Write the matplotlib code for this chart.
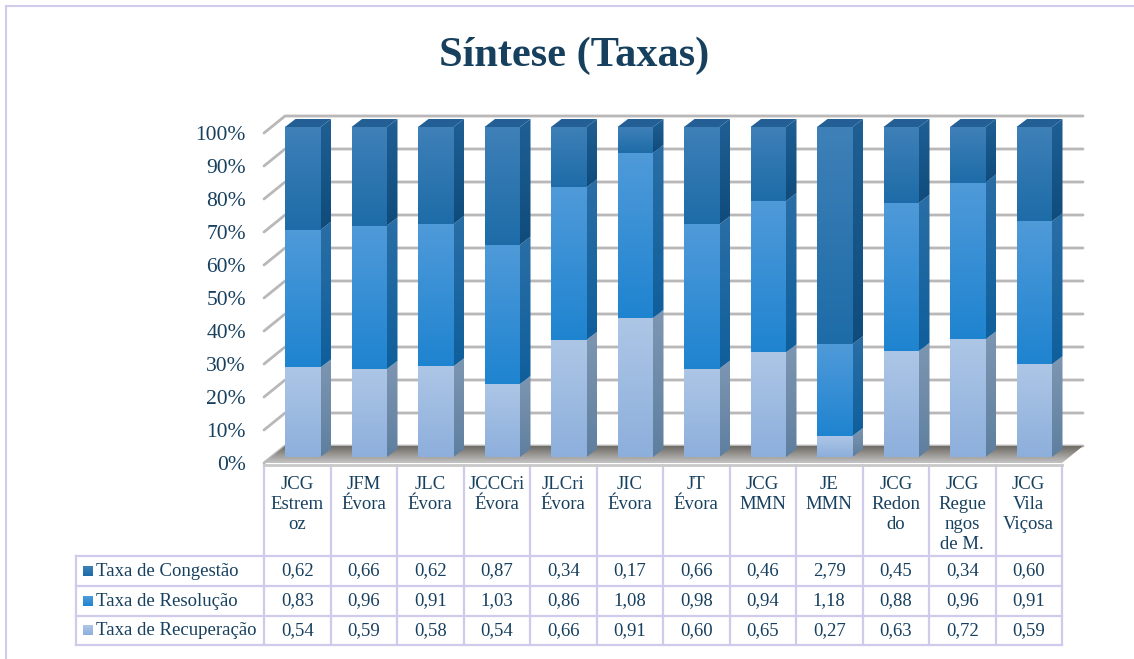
import numpy as np
import matplotlib
matplotlib.use('Agg')
from matplotlib import pyplot as plt
from matplotlib.colors import LinearSegmentedColormap
from matplotlib.patches import Polygon

plt.rcParams['font.family'] = ['Liberation Serif', 'DejaVu Serif']

categories = ['JCG\nEstrem\noz', 'JFM\nÉvora', 'JLC\nÉvora', 'JCCCri\nÉvora', 'JLCri\nÉvora',
              'JIC\nÉvora', 'JT\nÉvora', 'JCG\nMMN', 'JE\nMMN', 'JCG\nRedon\ndo',
              'JCG\nRegue\nngos\nde M.', 'JCG\nVila\nViçosa']
congestao = [0.62, 0.66, 0.62, 0.87, 0.34, 0.17, 0.66, 0.46, 2.79, 0.45, 0.34, 0.60]
resolucao = [0.83, 0.96, 0.91, 1.03, 0.86, 1.08, 0.98, 0.94, 1.18, 0.88, 0.96, 0.91]
recuperacao = [0.54, 0.59, 0.58, 0.54, 0.66, 0.91, 0.60, 0.65, 0.27, 0.63, 0.72, 0.59]
series_names = ['Taxa de Congestão', 'Taxa de Resolução', 'Taxa de Recuperação']
yticks = [0, 0.1, 0.2, 0.3, 0.4, 0.5, 0.6, 0.7, 0.8, 0.9, 1.0]

W, H = 1134, 659
TXT = '#17405f'
LINE = '#d0cbec'

# (front top, front bottom, side top, side bottom)
cols_recup = ('#adc6e6', '#8dafdc', '#7d96b2', '#5f7f9f')
cols_resol = ('#4f9ad9', '#1f84d0', '#2a6ea6', '#0f5f9c')
cols_cong = ('#3f80b8', '#1d6ca8', '#1f5f94', '#0f4c7c')

fig = plt.figure(figsize=(W / 100, H / 100), dpi=100)

# pixel overlay for the frame and the table
bg = fig.add_axes([0, 0, 1, 1])
bg.set_xlim(0, W)
bg.set_ylim(H, 0)
bg.axis('off')

# chart axes: 0% at pixel y 463, 100% at 133
x0, x1, y0, y1 = 264, 1062, 463, 133
ax = fig.add_axes([x0 / W, 1 - y0 / H, (x1 - x0) / W, (y0 - y1) / H])
ax.set_xlim(-0.5, 11.5)
ax.set_ylim(0, 1)
ax.set_autoscale_on(False)
ax.patch.set_alpha(0)
for s in ax.spines.values():
    s.set_visible(False)
px = 1.0 / ((x1 - x0) / 12.0)
py = 1.0 / (y0 - y1)


def grad_poly(verts, top, bottom, z):
    cmap = LinearSegmentedColormap.from_list('g', [top, bottom])
    xs = [v[0] for v in verts]
    ys = [v[1] for v in verts]
    poly = Polygon(verts, closed=True, facecolor='none', edgecolor='none', zorder=z, clip_on=False)
    ax.add_patch(poly)
    im = ax.imshow(np.linspace(0, 1, 64).reshape(-1, 1), cmap=cmap, aspect='auto', origin='upper',
                   extent=[min(xs), max(xs), min(ys), max(ys)], zorder=z)
    # the bars stand above the 100% line, so the axes box must not crop them
    im.set_clip_box(fig.bbox)
    im.set_clip_path(poly)


ax.set_yticks(yticks)
ax.set_yticklabels(['%d%%' % round(t * 100) for t in yticks], fontsize=15.5, color=TXT)
ax.tick_params(axis='y', length=0, pad=13)
ax.set_xticks([])

# walls: gridlines in depth, 21 px right and 17 px up
wx = 21 * px
wy = 17 * py
for t in yticks:
    ax.plot([-0.5, -0.5 + wx, 11.5 + wx], [t, t + wy, t + wy], color='#b9b7b7', lw=2, zorder=1,
            clip_on=False, solid_capstyle='round')

# floor
grad_poly([(-0.5, 0), (-0.5 + wx, wy), (11.5 + wx, wy), (11.5, 0)], '#6f6a64', '#c4c4c4', 2)
ax.plot([-0.5, 11.5], [-1.5 * py, -1.5 * py], color='#c9c9c9', lw=2, zorder=2, clip_on=False)

# bars, normalised to 100 %
rec = np.array(recuperacao)
res = np.array(resolucao)
con = np.array(congestao)
total = rec + res + con
stack = [(rec / total, cols_recup), (res / total, cols_resol), (con / total, cols_cong)]

bw = 35.5 * px
bx = 21 * px
by = 6 * py
sx = 10.5 * px
sy = 8 * py
for i in range(len(categories)):
    left = i - 0.5 + bx
    bottom = by
    for vals, c in stack:
        top = bottom + vals[i]
        grad_poly([(left, bottom), (left + bw, bottom), (left + bw, top), (left, top)], c[0], c[1], 5)
        grad_poly([(left + bw, bottom), (left + bw + sx, bottom + sy), (left + bw + sx, top + sy),
                   (left + bw, top)], c[2], c[3], 4)
        bottom = top
    ax.add_patch(Polygon([(left, bottom), (left + bw, bottom), (left + bw + sx, bottom + sy),
                          (left + sx, bottom + sy)], closed=True, facecolor='#235f94',
                         edgecolor='none', zorder=6, clip_on=False))

# frame
bg.plot([6, W], [6, 6], color=LINE, lw=1.5)
bg.plot([6, 6], [6, H], color=LINE, lw=1.5)

bg.text(574, 56, 'Síntese (Taxas)', ha='center', va='center', fontsize=30.5, fontweight='bold', color=TXT)

# table
row_lines = [556, 586, 616, 645]
col_x = [x0 + i * (x1 - x0) / 12.0 for i in range(13)]
for i, x in enumerate(col_x):
    bg.plot([x, x], [465, row_lines[-1]], color=LINE, lw=1.6)
bg.plot([76, 76], [row_lines[0], row_lines[-1]], color=LINE, lw=1.6)
for y in row_lines:
    bg.plot([76, x1], [y, y], color=LINE, lw=1.6)

for i, lab in enumerate(categories):
    cx = (col_x[i] + col_x[i + 1]) / 2
    bg.text(cx, 476, lab, ha='center', va='top', fontsize=13.5, color=TXT, linespacing=1.22)

rows = [congestao, resolucao, recuperacao]
key_cols = [cols_cong, cols_resol, cols_recup]
for r, name in enumerate(series_names):
    cy = (row_lines[r] + row_lines[r + 1]) / 2
    cmap = LinearSegmentedColormap.from_list('k', [key_cols[r][0], key_cols[r][1]])
    bg.imshow(np.linspace(0, 1, 16).reshape(-1, 1), cmap=cmap, aspect='auto',
              extent=[83, 93, cy + 5, cy - 5], zorder=3)
    bg.text(96, cy, name, ha='left', va='center', fontsize=13.5, color=TXT)
    for i, v in enumerate(rows[r]):
        cx = (col_x[i] + col_x[i + 1]) / 2
        bg.text(cx, cy, ('%.2f' % v).replace('.', ','), ha='center', va='center', fontsize=13.5, color=TXT)
bg.set_xlim(0, W)
bg.set_ylim(H, 0)

fig.savefig('out.png', dpi=100)
